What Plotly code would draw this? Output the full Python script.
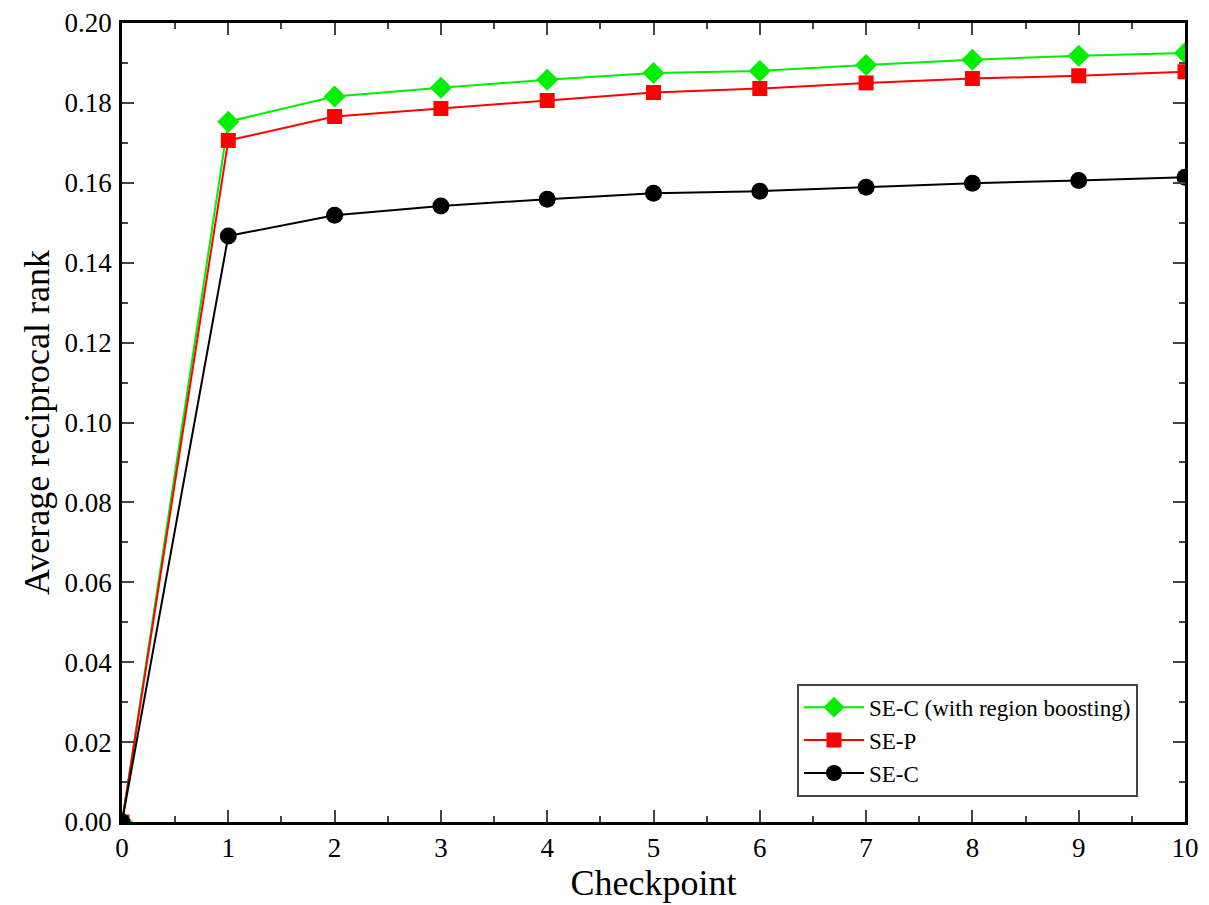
import plotly.graph_objects as go

checkpoints = [0, 1, 2, 3, 4, 5, 6, 7, 8, 9, 10]
se_c_boost = [0.0, 0.1753, 0.1816, 0.1838, 0.1858, 0.1875, 0.1880, 0.1895, 0.1908, 0.1918, 0.1925]
se_p = [0.0, 0.1706, 0.1766, 0.1786, 0.1806, 0.1826, 0.1836, 0.1850, 0.1861, 0.1868, 0.1878]
se_c = [0.0, 0.1467, 0.1519, 0.1542, 0.1559, 0.1574, 0.1579, 0.1589, 0.1599, 0.1606, 0.1614]

x_ticks = list(range(0, 11))
y_ticks = [0.00, 0.02, 0.04, 0.06, 0.08, 0.10, 0.12, 0.14, 0.16, 0.18, 0.20]
y_tick_labels = [f"{v:.2f}" for v in y_ticks]

fig = go.Figure()
fig.add_trace(go.Scatter(x=checkpoints, y=se_c_boost, mode="lines+markers",
                         name="SE-C (with region boosting)",
                         line=dict(color="#00ee00", width=2),
                         marker=dict(symbol="diamond", size=17, color="#00ee00")))
fig.add_trace(go.Scatter(x=checkpoints, y=se_p, mode="lines+markers", name="SE-P",
                         line=dict(color="#ff0000", width=2),
                         marker=dict(symbol="square", size=15, color="#ff0000")))
fig.add_trace(go.Scatter(x=checkpoints, y=se_c, mode="lines+markers", name="SE-C",
                         line=dict(color="#000000", width=2),
                         marker=dict(symbol="circle", size=17, color="#000000")))

font_family = "Liberation Serif, Times New Roman, serif"
axis_common = dict(showline=True, linecolor="black", linewidth=2.5, mirror="allticks",
                   ticks="inside", ticklen=12, tickwidth=2, tickcolor="#444",
                   showgrid=False, zeroline=False, automargin=False,
                   ticklabeloverflow="allow",
                   tickfont=dict(family=font_family, size=27, color="black"))

fig.update_layout(
    width=1201, height=897,
    paper_bgcolor="white", plot_bgcolor="white",
    margin=dict(l=114, r=24, t=15, b=83),
    font=dict(family=font_family, color="black"),
    xaxis=dict(range=[0, 10], tickvals=x_ticks, ticktext=[str(v) for v in x_ticks],
               minor=dict(ticks="inside", ticklen=6, tickwidth=2, tickcolor="#444", dtick=0.5),
               title=dict(text="Checkpoint", font=dict(family=font_family, size=36), standoff=0),
               ticklabelstandoff=0,
               **axis_common),
    yaxis=dict(range=[0, 0.2], tickvals=y_ticks, ticktext=y_tick_labels,
               minor=dict(ticks="inside", ticklen=6, tickwidth=2, tickcolor="#444", dtick=0.01),
               title=dict(text="Average reciprocal rank", font=dict(family=font_family, size=36), standoff=4),
               ticklabelstandoff=2,
               **axis_common),
    legend=dict(x=0.635, y=0.173, xanchor="left", yanchor="top",
                bordercolor="#444", borderwidth=2, bgcolor="white",
                font=dict(family=font_family, size=23), tracegroupgap=0,
                itemwidth=60),
    showlegend=True,
)

fig.write_html("out.html")
